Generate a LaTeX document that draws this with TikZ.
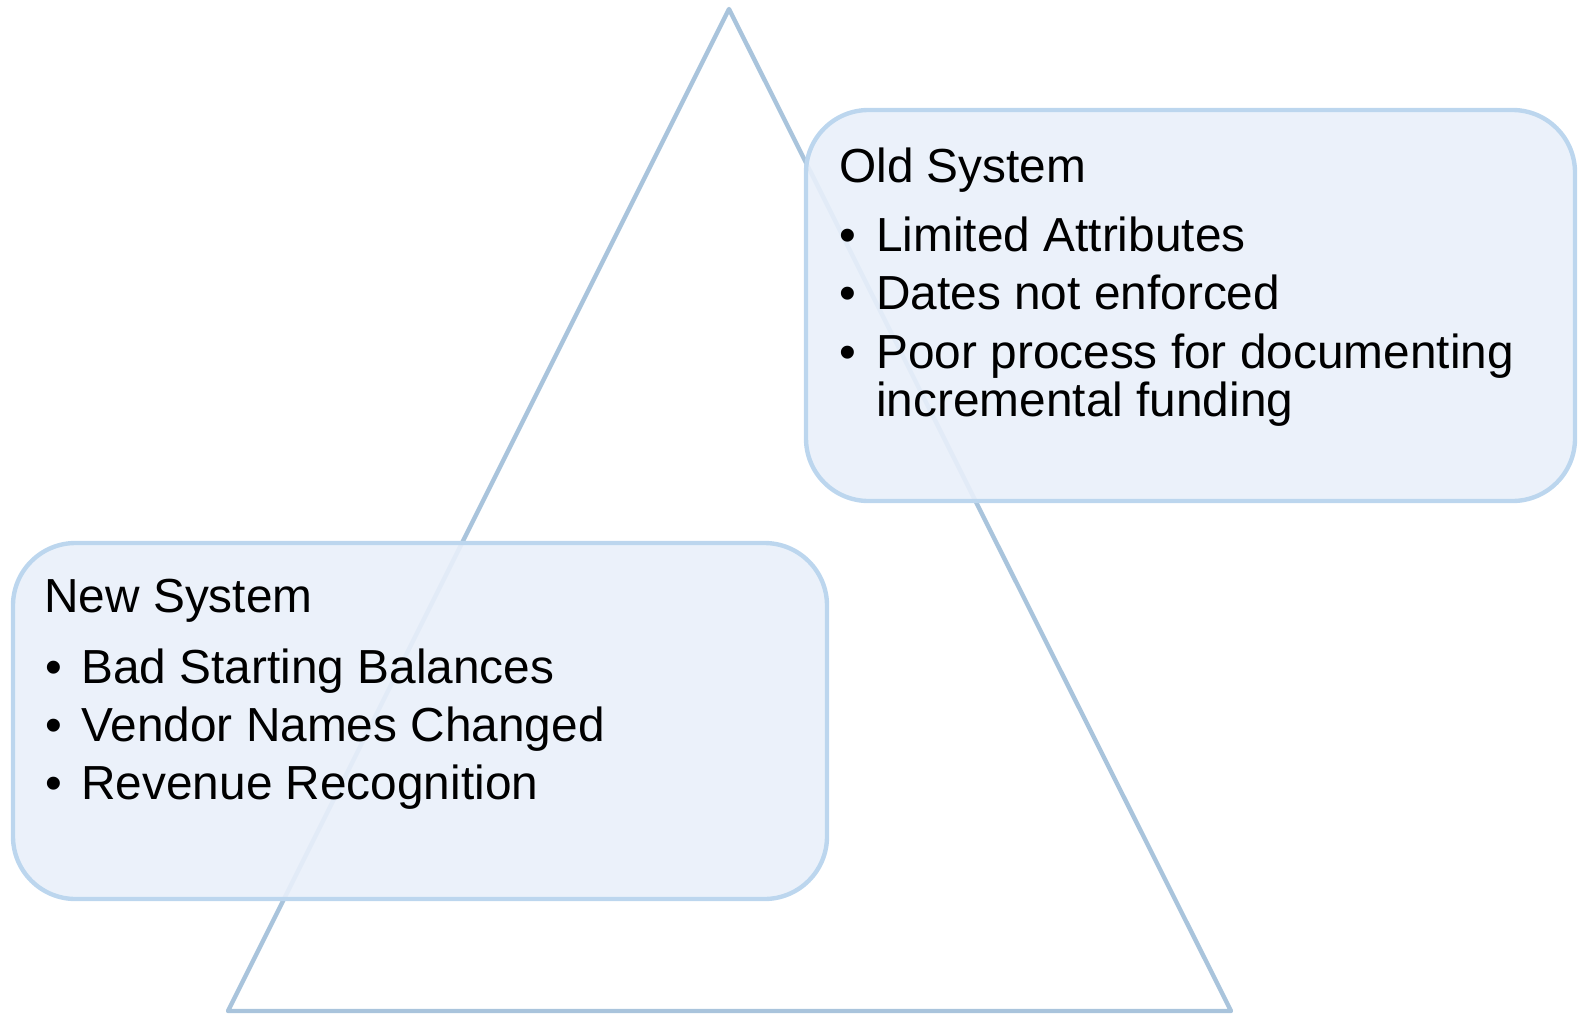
\documentclass[tikz,border=0pt]{standalone}
\usepackage{fontspec}
\setmainfont{Liberation Sans}
\usepackage{tikz}

\definecolor{triline}{HTML}{A9C4DC}
\definecolor{boxline}{HTML}{BCD6EE}
\definecolor{boxfill}{HTML}{E9F0FA}

\begin{document}
\begin{tikzpicture}[x=0.02cm,y=-0.02cm,
    box/.style={draw=boxline,fill=boxfill,fill opacity=0.9,line width=2.5pt,rounded corners=1.25cm},
    txt/.style={anchor=base west,inner sep=0pt,font=\fontsize{27.2}{32}\selectfont}]
  \useasboundingbox (0,0) rectangle (1579,1014);
  \draw[triline,line width=2.5pt,line join=round] (729,9) -- (1231,1011) -- (228,1011) -- cycle;
  \draw[box] (806,110) rectangle (1575,501);
  \draw[box] (13,543) rectangle (827,899);
  \node[txt] (oldtitle) at (839,182) {Old System};
  \foreach \t/\y [count=\i] in {Limited Attributes/251,Dates not enforced/309,Poor process for documenting/368} {
    \node[txt] (oldbul\i) at (839,\y) {•};
    \node[txt] (old\i) at (876,\y) {\t};
  }
  \node[txt] (old4) at (876,416) {incremental funding};
  \node[txt] (newtitle) at (44,612) {New System};
  \foreach \t/\y [count=\i] in {Bad Starting Balances/683,Vendor Names Changed/741,Revenue Recognition/799} {
    \node[txt] (newbul\i) at (45,\y) {•};
    \node[txt] (new\i) at (81,\y) {\t};
  }
\end{tikzpicture}
\end{document}
